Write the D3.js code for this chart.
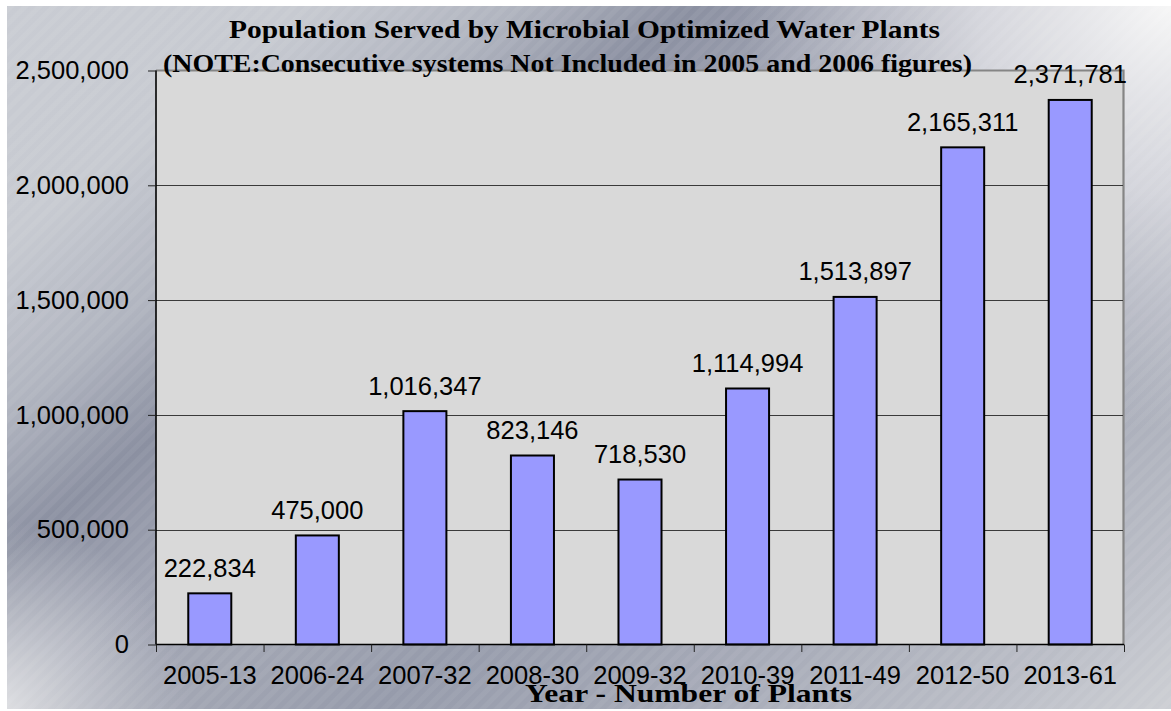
<!DOCTYPE html>
<html>
<head>
<meta charset="utf-8">
<script src="https://cdn.jsdelivr.net/npm/d3@7"></script>
<style>
  html, body { margin: 0; padding: 0; background: #ffffff; }
  svg { display: block; }
</style>
</head>
<body>
<svg id="chart" width="1171" height="711"></svg>
<script>
// Chart data
const categories = ["2005-13", "2006-24", "2007-32", "2008-30", "2009-32", "2010-39", "2011-49", "2012-50", "2013-61"];
const population = [222834, 475000, 1016347, 823146, 718530, 1114994, 1513897, 2165311, 2371781];
const yTickValues = [0, 500000, 1000000, 1500000, 2000000, 2500000];
const titleLines = [
  "Population Served by Microbial Optimized Water Plants",
  "(NOTE:Consecutive systems Not Included in 2005 and 2006 figures)"
];
const xAxisTitle = "Year - Number of Plants";

const W = 1171, H = 711;
const plot = { left: 156, right: 1124, top: 70.5, bottom: 644.5 };

const svg = d3.select("#chart");
const defs = svg.append("defs");

// Brushed-metal backdrop: slanted bands plus two corner highlights
const base = defs.append("linearGradient")
  .attr("id", "metal")
  .attr("gradientUnits", "userSpaceOnUse")
  .attr("x1", 0).attr("y1", 0)
  .attr("x2", 0.8 * 1648 / 1.64).attr("y2", 1648 / 1.64);
[
  [0, "#c9ccd3"],
  [250, "#c7cad1"],
  [420, "#b0b4bf"],
  [560, "#8b90a1"],
  [700, "#9ea2b1"],
  [850, "#a2a6b3"],
  [1010, "#969bab"],
  [1250, "#a6aab7"],
  [1490, "#babdc6"],
  [1648, "#cdcfd4"]
].forEach(([s, c]) => base.append("stop").attr("offset", s / 1648).attr("stop-color", c));

const glowTR = defs.append("radialGradient")
  .attr("id", "glowTR")
  .attr("gradientUnits", "userSpaceOnUse")
  .attr("cx", 1171).attr("cy", 0).attr("r", 430);
glowTR.append("stop").attr("offset", 0).attr("stop-color", "#f7f7f7").attr("stop-opacity", 1);
glowTR.append("stop").attr("offset", 0.45).attr("stop-color", "#e6e6ea").attr("stop-opacity", 0.75);
glowTR.append("stop").attr("offset", 1).attr("stop-color", "#d8d9de").attr("stop-opacity", 0);

const glowBL = defs.append("radialGradient")
  .attr("id", "glowBL")
  .attr("gradientUnits", "userSpaceOnUse")
  .attr("cx", 0).attr("cy", 711).attr("r", 190);
glowBL.append("stop").attr("offset", 0).attr("stop-color", "#dfe0e3").attr("stop-opacity", 1);
glowBL.append("stop").attr("offset", 1).attr("stop-color", "#d0d2d7").attr("stop-opacity", 0);

// Fine diagonal sheen lines
const stripes = defs.append("pattern")
  .attr("id", "sheen")
  .attr("patternUnits", "userSpaceOnUse")
  .attr("width", 10).attr("height", 10)
  .attr("patternTransform", "rotate(45)");
stripes.append("rect").attr("width", 5).attr("height", 10).attr("fill", "#ffffff").attr("opacity", 0.05);

["url(#metal)", "url(#glowTR)", "url(#glowBL)", "url(#sheen)"].forEach(f =>
  svg.append("rect").attr("x", 7).attr("y", 6).attr("width", W - 7).attr("height", H - 8).attr("fill", f));

// Scales
const x = d3.scaleBand()
  .domain(categories)
  .range([plot.left, plot.right])
  .paddingInner(0.6)
  .paddingOuter(0.3);

const y = d3.scaleLinear()
  .domain([0, 2500000])
  .range([plot.bottom, plot.top]);

const edges = d3.scaleLinear()
  .domain([0, categories.length])
  .range([plot.left, plot.right]);

// Plot area
svg.append("rect")
  .attr("x", plot.left).attr("y", plot.top)
  .attr("width", plot.right - plot.left).attr("height", plot.bottom - plot.top)
  .attr("fill", "#d9d9d9");

// Frame: grey top and right edges
svg.append("path")
  .attr("d", `M${plot.left},${plot.top} H${plot.right - 0.5} V${plot.bottom}`)
  .attr("fill", "none")
  .attr("stroke", "#858585")
  .attr("stroke-width", 2.2);

// Gridlines
svg.append("g")
  .selectAll("line")
  .data(yTickValues.filter(v => v > 0 && v < 2500000))
  .join("line")
  .attr("x1", plot.left).attr("x2", plot.right - 1)
  .attr("y1", d => Math.round(y(d)) + 0.5).attr("y2", d => Math.round(y(d)) + 0.5)
  .attr("stroke", "#3a3a3a")
  .attr("stroke-width", 1);

// Bars
svg.append("g")
  .selectAll("rect")
  .data(population)
  .join("rect")
  .attr("x", (d, i) => x(categories[i]))
  .attr("y", d => y(d))
  .attr("width", x.bandwidth())
  .attr("height", d => plot.bottom - y(d))
  .attr("fill", "#9999ff")
  .attr("stroke", "#000000")
  .attr("stroke-width", 2);

// Y axis
const yAxis = svg.append("g")
  .attr("transform", `translate(${plot.left},0)`)
  .call(d3.axisLeft(y).tickValues(yTickValues).tickSize(8).tickPadding(19).tickFormat(d3.format(",")));
yAxis.select(".domain").attr("stroke", "#000").attr("stroke-width", 1.6).attr("d", `M0,${plot.top}V${plot.bottom}`);
yAxis.selectAll(".tick line").attr("stroke", "#222");
yAxis.selectAll(".tick text")
  .attr("fill", "#000")
  .style("font-family", "'Liberation Sans', Arial, sans-serif")
  .style("font-size", "25.5px");

// X axis: ticks at category boundaries
const xTicks = svg.append("g")
  .attr("transform", `translate(0,${plot.bottom})`)
  .call(d3.axisBottom(edges).tickValues(d3.range(categories.length + 1)).tickSize(7.5).tickFormat(""));
xTicks.select(".domain").attr("stroke", "#000").attr("stroke-width", 1.6).attr("d", `M${plot.left},0H${plot.right}`);
xTicks.selectAll(".tick line").attr("stroke", "#222");

// X axis: category labels
const xLabels = svg.append("g")
  .attr("transform", `translate(0,${plot.bottom})`)
  .call(d3.axisBottom(x).tickSize(0).tickPadding(21));
xLabels.select(".domain").remove();
xLabels.selectAll(".tick text")
  .attr("fill", "#000")
  .style("font-family", "'Liberation Sans', Arial, sans-serif")
  .style("font-size", "25.5px");

// Value labels
svg.append("g")
  .selectAll("text")
  .data(population)
  .join("text")
  .attr("x", (d, i) => x(categories[i]) + x.bandwidth() / 2)
  .attr("y", d => y(d) - 16.5)
  .attr("text-anchor", "middle")
  .style("font-family", "'Liberation Sans', Arial, sans-serif")
  .style("font-size", "25.5px")
  .attr("fill", "#000")
  .text(d => d3.format(",")(d));

// Titles (wide bold serif)
const serif = "'Liberation Serif', 'Times New Roman', serif";
function serifText(str, cx, baseline, size, width) {
  svg.append("text")
    .attr("x", cx - width / 2).attr("y", baseline)
    .attr("textLength", width)
    .attr("lengthAdjust", "spacingAndGlyphs")
    .style("font-family", serif).style("font-weight", "bold").style("font-size", size + "px")
    .attr("fill", "#000")
    .text(str);
}
serifText(titleLines[0], 584.5, 37.5, 25.5, 711);
serifText(titleLines[1], 567.5, 71.5, 25.5, 809);
serifText(xAxisTitle, 688.5, 701.5, 24.5, 327);
</script>
</body>
</html>
